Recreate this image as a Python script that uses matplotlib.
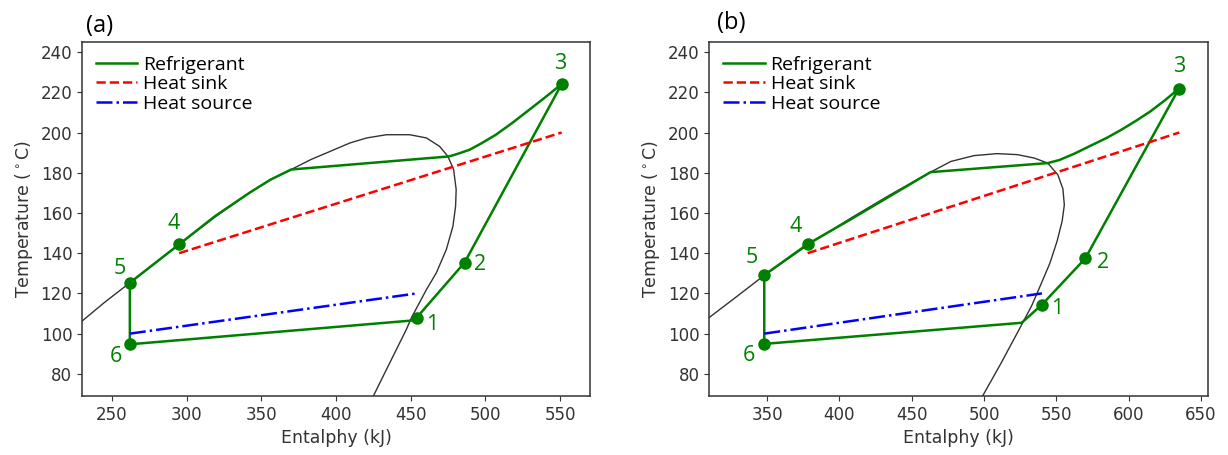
"""T-h diagrams of the heat pump cycle for two refrigerants, panels (a) and (b)."""
import numpy as np
import matplotlib
matplotlib.use("Agg")
import matplotlib.pyplot as plt

# ---- panel (a) --------------------------------------------------------------
a_dome_h = [228, 245, 262, 295, 319, 342, 356, 370, 383, 396, 409.3, 420.5, 433.8,
            449.3, 460.5, 469.3, 474.9, 478.7, 480.4, 480, 478.2, 473.8, 467.1,
            460.5, 450.5, 447, 429.3, 425, 422]
a_dome_T = [105, 115.5, 125.3, 144.4, 158, 170, 176.5, 181.6, 186.5, 190.6, 194.8,
            197.3, 198.9, 198.9, 197.3, 193.1, 188.1, 181.5, 171.6, 163.3, 153.3,
            141.8, 130.2, 121.9, 108, 102, 75.5, 69, 65]
a_ref_h = [262, 450.5, 454, 486, 551, 540, 529.3, 518, 507, 497, 489.3, 481, 475.6,
           370, 356, 342, 319, 295, 262, 262]
a_ref_T = [94.7, 106.5, 108, 135.3, 224.1, 217.5, 211.3, 204.8, 198.9, 194.5, 191.4,
           189.3, 188.1, 181.6, 176.5, 170, 158.4, 144.4, 125.3, 94.7]
a_state_h = [454, 486, 551, 295, 262, 262]
a_state_T = [108, 135.3, 224.1, 144.4, 125.3, 94.7]
a_sink_h, a_sink_T = [295, 551], [140, 200]
a_source_h, a_source_T = [262, 454], [100, 120]

# ---- panel (b) --------------------------------------------------------------
b_dome_h = [309, 330, 348, 378, 408, 435, 463, 477, 493, 509, 523, 534.7, 544, 551,
            554.5, 555.5, 554, 550.5, 545.5, 539, 533, 524.2, 511.5, 499, 497]
b_dome_T = [107.5, 119, 129, 144, 157.5, 169, 180.3, 185.6, 188.5, 189.5, 189, 187.3,
            184.8, 179, 172, 164, 156, 146, 135, 124, 114, 102, 85, 69, 66]
b_ref_h = [348, 526, 540, 570, 634.6, 625, 615, 605, 595, 585, 575, 562.5, 552, 544,
           463, 435, 408, 378, 348, 348]
b_ref_T = [94.9, 105.4, 114.4, 137.4, 221.7, 216, 210.5, 205.8, 201.4, 197.4, 193.9,
           189.5, 186.3, 184.8, 180.3, 168.4, 156.9, 144.5, 129.1, 94.9]
b_state_h = [540, 570, 634.6, 378, 348, 348]
b_state_T = [114.4, 137.4, 221.7, 144.5, 129.1, 94.9]
b_sink_h, b_sink_T = [378, 635], [140, 200]
b_source_h, b_source_T = [348, 540], [100, 120]

state_labels = ["1", "2", "3", "4", "5", "6"]

GREEN = "green"
INK = "#333333"
LABEL_FONT = "Open Sans"

# label offsets (points) for the state numbers
a_offsets = [(11, -5), (11, -1), (-1, 15), (-4, 15), (-7, 10), (-10, -8.5)]
b_offsets = [(11, -3), (13, -3), (0, 16), (-8.5, 13), (-9, 13), (-11, -8.5)]


def draw_panel(ax, dome, ref, states, sink, source, offsets, xlim, xticks):
    ax.plot(*dome, color=INK, lw=1.0)
    ax.plot(*ref, color=GREEN, lw=1.8, label="Refrigerant")
    ax.plot(*sink, color="red", ls="--", lw=1.8, label="Heat sink")
    ax.plot(*source, color="blue", ls="-.", lw=1.8, label="Heat source")
    ax.plot(*states, "o", color=GREEN, ms=8)
    for lbl, h, T, off in zip(state_labels, states[0], states[1], offsets):
        ax.annotate(lbl, (h, T), xytext=off, textcoords="offset points",
                    ha="center", va="center", color=GREEN, fontsize=15.5,
                    family=LABEL_FONT)
    ax.set_xlim(*xlim)
    ax.set_ylim(69, 245)
    ax.set_xticks(xticks)
    ax.set_yticks(np.arange(80, 241, 20))
    ax.set_xlabel("Entalphy (kJ)", fontsize=12.5, color=INK)
    ax.set_ylabel(r"Temperature ($^\circ$C)", fontsize=12.5, color=INK)
    ax.tick_params(labelsize=12, colors=INK)
    for s in ax.spines.values():
        s.set_color(INK)
        s.set_linewidth(1.1)
    ax.legend(loc="upper left", frameon=False, prop={"family": LABEL_FONT, "size": 14},
              handlelength=2.15, handletextpad=0.3, labelspacing=0.08,
              borderaxespad=0.4, borderpad=0.3)


def main():
    fig = plt.figure(figsize=(12.28, 4.55), dpi=100)
    ax_a = fig.add_axes([0.0668, 0.1297, 0.4137, 0.778])
    ax_b = fig.add_axes([0.5776, 0.1297, 0.4063, 0.778])

    draw_panel(ax_a, (a_dome_h, a_dome_T), (a_ref_h, a_ref_T), (a_state_h, a_state_T),
               (a_sink_h, a_sink_T), (a_source_h, a_source_T), a_offsets,
               (230, 570), np.arange(250, 551, 50))
    draw_panel(ax_b, (b_dome_h, b_dome_T), (b_ref_h, b_ref_T), (b_state_h, b_state_T),
               (b_sink_h, b_sink_T), (b_source_h, b_source_T), b_offsets,
               (310, 655), np.arange(350, 651, 50))

    fig.text(0.070, 0.943, "(a)", fontsize=17, family=LABEL_FONT, va="center")
    fig.text(0.584, 0.949, "(b)", fontsize=17, family=LABEL_FONT, va="center")

    fig.savefig("out.png", dpi=100)


if __name__ == "__main__":
    main()
